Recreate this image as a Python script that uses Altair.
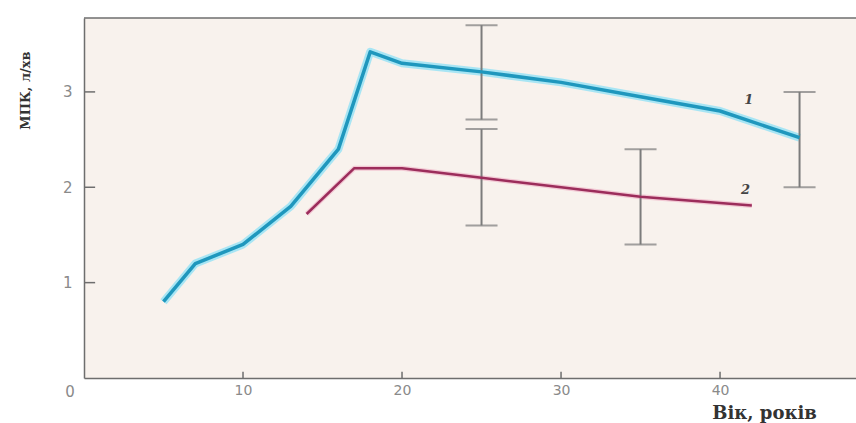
import altair as alt
import pandas as pd

# Series 1 (blue)
x1 = [5, 7, 10, 13, 16, 18, 20, 25, 30, 35, 40, 45]
y1 = [0.8, 1.2, 1.4, 1.8, 2.4, 3.42, 3.3, 3.21, 3.1, 2.95, 2.8, 2.52]
# Series 2 (red)
x2 = [14, 17, 20, 25, 30, 35, 42]
y2 = [1.72, 2.2, 2.2, 2.1, 2.0, 1.9, 1.81]
# Error bars
ex = [25, 45, 25, 35]
elo = [2.71, 2.0, 1.6, 1.4]
ehi = [3.70, 3.0, 2.61, 2.4]
# Axis ticks
xticks = [10, 20, 30, 40]
yticks = [1, 2, 3]
# Series labels
lab_text = ["1", "2"]
lab_x = [41.8, 41.6]
lab_y = [2.92, 1.97]

XMAX = 48.55
YMAX = 3.775

xs = alt.Scale(domain=[0, XMAX], nice=False, zero=False)
ys = alt.Scale(domain=[0, YMAX], nice=False, zero=False)

df1 = pd.DataFrame({"x": x1, "y": y1})
df2 = pd.DataFrame({"x": x2, "y": y2})
dfe = pd.DataFrame({"x": ex, "lo": elo, "hi": ehi})
dfc = pd.DataFrame({"x": ex + ex, "y": elo + ehi})
dfxt = pd.DataFrame({"x": xticks, "y0": [0] * len(xticks), "y1": [0.065] * len(xticks)})
dfyt = pd.DataFrame({"y": yticks, "x0": [0] * len(yticks), "x1": [0.7] * len(yticks)})
dfl = pd.DataFrame({"t": lab_text, "x": lab_x, "y": lab_y})
dfz = pd.DataFrame({"t": ["0"], "x": [0], "y": [0]})
dftop = pd.DataFrame({"x0": [0], "x1": [XMAX], "y": [YMAX]})

xaxis = alt.Axis(values=xticks, ticks=False, domain=True, domainColor="#6e6e6e",
                 domainWidth=1.5, grid=False, format="d",
                 labelFontSize=14, labelColor="#8a8a8a", labelPadding=5,
                 labelFont="DejaVu Sans",
                 title="Вік, років", titleFont="DejaVu Serif", titleFontSize=18,
                 titleFontWeight="bold", titleColor="#333333",
                 titleX=680, titleY=40, titleAlign="center", titleBaseline="alphabetic")
yaxis = alt.Axis(values=yticks, ticks=False, domain=True, domainColor="#6e6e6e",
                 domainWidth=1.5, grid=False, format="d",
                 labelFontSize=15, labelColor="#8a8a8a", labelPadding=12,
                 labelFont="DejaVu Sans",
                 title="МПК, л/хв", titleFont="DejaVu Serif", titleFontSize=13,
                 titleFontWeight="bold", titleColor="#333333", titleAngle=270,
                 titleX=-59, titleY=72, titleAlign="center", titleBaseline="middle")

base1 = alt.Chart(df1)
glow1 = base1.mark_line(color="#9fe3f4", strokeWidth=8, opacity=0.9, strokeJoin="round").encode(
    x=alt.X("x:Q", scale=xs, axis=xaxis), y=alt.Y("y:Q", scale=ys, axis=yaxis))
line1 = base1.mark_line(color="#1f97bd", strokeWidth=3.5, strokeJoin="round").encode(
    x=alt.X("x:Q", scale=xs), y=alt.Y("y:Q", scale=ys))

base2 = alt.Chart(df2)
glow2 = base2.mark_line(color="#efb7c9", strokeWidth=5, opacity=0.7, strokeJoin="round").encode(
    x=alt.X("x:Q", scale=xs), y=alt.Y("y:Q", scale=ys))
line2 = base2.mark_line(color="#9c2d5b", strokeWidth=2.5, strokeJoin="round").encode(
    x=alt.X("x:Q", scale=xs), y=alt.Y("y:Q", scale=ys))

err = alt.Chart(dfe).mark_rule(color="#7c7c7c", strokeWidth=2).encode(
    x=alt.X("x:Q", scale=xs), y=alt.Y("lo:Q", scale=ys), y2="hi:Q")
caps = alt.Chart(dfc).mark_tick(color="#7c7c7c", orient="horizontal", size=32, thickness=2).encode(
    x=alt.X("x:Q", scale=xs), y=alt.Y("y:Q", scale=ys))

xt = alt.Chart(dfxt).mark_rule(color="#6e6e6e", strokeWidth=1.5).encode(
    x=alt.X("x:Q", scale=xs), y=alt.Y("y0:Q", scale=ys), y2="y1:Q")
yt = alt.Chart(dfyt).mark_rule(color="#6e6e6e", strokeWidth=1.5).encode(
    y=alt.Y("y:Q", scale=ys), x=alt.X("x0:Q", scale=xs), x2="x1:Q")
top = alt.Chart(dftop).mark_rule(color="#6e6e6e", strokeWidth=1.5).encode(
    y=alt.Y("y:Q", scale=ys), x=alt.X("x0:Q", scale=xs), x2="x1:Q")

labels = alt.Chart(dfl).mark_text(fontSize=13, fontStyle="italic", fontWeight="bold",
                                  color="#444444", font="DejaVu Serif").encode(
    x=alt.X("x:Q", scale=xs), y=alt.Y("y:Q", scale=ys), text="t:N")
zero = alt.Chart(dfz).mark_text(fontSize=15, color="#8a8a8a", font="DejaVu Sans",
                                dx=-14, dy=14).encode(
    x=alt.X("x:Q", scale=xs), y=alt.Y("y:Q", scale=ys), text="t:N")

chart = alt.layer(glow1, glow2, err, caps, line1, line2, xt, yt, top, labels, zero).properties(
    width=772, height=360,
    autosize=alt.AutoSizeParams(type="none"),
    padding={"left": 84, "top": 18, "right": 0, "bottom": 45},
    background="#ffffff",
).configure_view(
    fill="#f8f2ed", stroke=None
)

chart.save("out.html", embed_options={"renderer": "svg", "actions": False})
